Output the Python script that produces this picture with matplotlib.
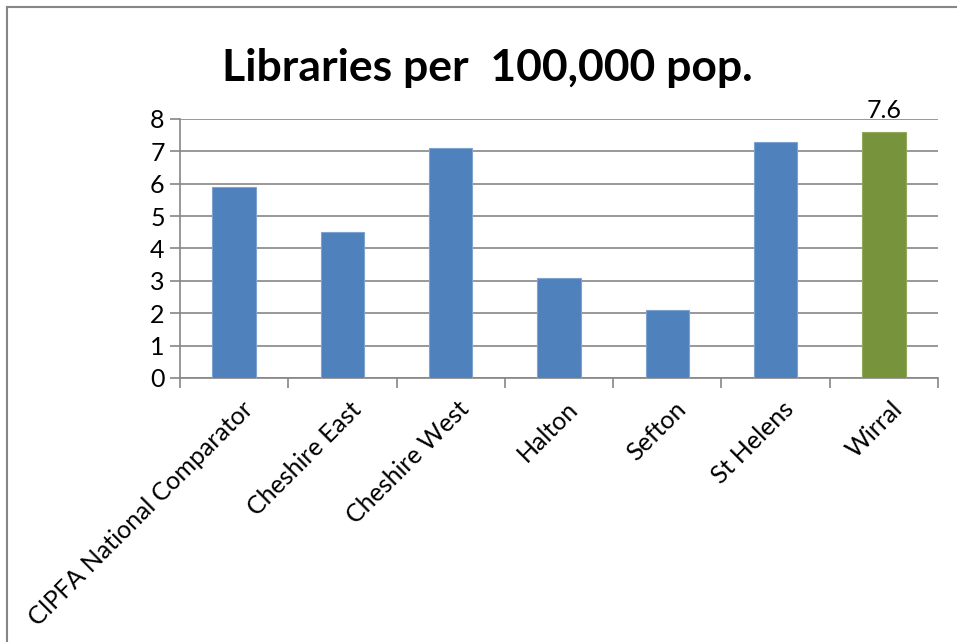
import matplotlib
matplotlib.use("Agg")
import matplotlib.pyplot as plt
from matplotlib.lines import Line2D

categories = ["CIPFA National Comparator", "Cheshire East", "Cheshire West",
              "Halton", "Sefton", "St Helens", "Wirral"]
values = [5.9, 4.5, 7.1, 3.1, 2.1, 7.3, 7.6]
bar_colors = ["#4F81BD"] * 6 + ["#77933C"]
yticks = [0, 1, 2, 3, 4, 5, 6, 7, 8]
title = "Libraries per  100,000 pop."

plt.rcParams['font.family'] = ['Lato', 'DejaVu Sans']

W, H = 957, 642
fig = plt.figure(figsize=(W / 100, H / 100), dpi=100)
ax = fig.add_axes([180 / W, 1 - 378 / H, (938 - 180) / W, (378 - 119) / H])

x = list(range(len(categories)))
ax.bar(x, values, width=0.4, color=bar_colors, zorder=3,
       edgecolor=["#7FA3D1"] * 6 + ["#8FAA5A"], linewidth=0.8)
ax.set_xlim(-0.5, len(categories) - 0.5)
ax.set_ylim(0, 8)
ax.set_yticks(yticks)
ax.set_yticklabels([str(t) for t in yticks], fontsize=18)
ax.yaxis.grid(True, color="#868686", linewidth=1.2, zorder=0)
ax.set_axisbelow(True)

ax.set_xticks([i - 0.5 for i in range(len(categories) + 1)])
ax.set_xticklabels([""] * (len(categories) + 1))
ax.tick_params(axis='x', length=7, color="#868686", width=1.2, direction='out')
ax.tick_params(axis='y', length=7, color="#868686", width=1.2, direction='out', pad=4)

for i, c in enumerate(categories):
    ax.text(i + 0.06, -0.6, c, rotation=45, ha='right', va='top',
            rotation_mode='anchor', fontsize=18)

for s in ['top', 'right']:
    ax.spines[s].set_visible(False)
for s in ['left', 'bottom']:
    ax.spines[s].set_color("#868686")
    ax.spines[s].set_linewidth(1.2)

ax.text(x[-1], values[-1] + 0.3, f"{values[-1]}", ha='center', va='bottom', fontsize=18)

fig.text(487 / W, 1 - 68 / H, title, ha='center', va='center',
         fontsize=32, fontweight='bold')

fig.add_artist(Line2D([7 / W, 1], [1 - 7 / H, 1 - 7 / H], color="#868686", linewidth=1.5,
                      transform=fig.transFigure))
fig.add_artist(Line2D([7 / W, 7 / W], [0, 1 - 7 / H], color="#868686", linewidth=1.5,
                      transform=fig.transFigure))

fig.savefig("out.png", dpi=100)
